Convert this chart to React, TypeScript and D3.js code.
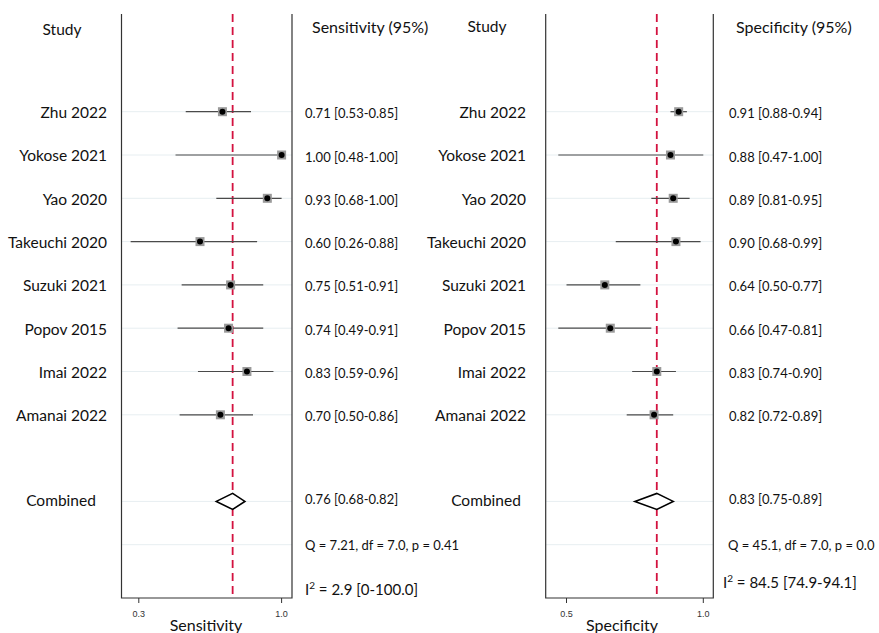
import React from 'react';
import * as d3 from 'd3';

const studies = ['Zhu 2022', 'Yokose 2021', 'Yao 2020', 'Takeuchi 2020', 'Suzuki 2021', 'Popov 2015', 'Imai 2022', 'Amanai 2022'];

const sens = [0.71, 1.0, 0.93, 0.6, 0.75, 0.74, 0.83, 0.7];
const sensLo = [0.53, 0.48, 0.68, 0.26, 0.51, 0.49, 0.59, 0.5];
const sensHi = [0.85, 1.0, 1.0, 0.88, 0.91, 0.91, 0.96, 0.86];
const sensPooled = [0.76, 0.68, 0.82];
const sensQ = 'Q = 7.21, df = 7.0, p = 0.41';
const sensI2 = ' = 2.9 [0-100.0]';
const sensTicks = [0.3, 1.0];

const spec = [0.91, 0.88, 0.89, 0.9, 0.64, 0.66, 0.83, 0.82];
const specLo = [0.88, 0.47, 0.81, 0.68, 0.5, 0.47, 0.74, 0.72];
const specHi = [0.94, 1.0, 0.95, 0.99, 0.77, 0.81, 0.9, 0.89];
const specPooled = [0.83, 0.75, 0.89];
const specQ = 'Q = 45.1, df = 7.0, p = 0.0';
const specI2 = ' = 84.5 [74.9-94.1]';
const specTicks = [0.5, 1.0];

const FONT = 'Lato, "Open Sans", sans-serif';
const fmt = d3.format('.2f');

// row index -> y (row 8 is the empty gap before Combined, row 10 is the Q line)
const y = d3.scaleLinear().domain([0, 10]).range([111.7, 544.7]);
const TOP = 14;
const BOTTOM = 598;

type PanelProps = {
  est: number[];
  lo: number[];
  hi: number[];
  pooled: number[];
  q: string;
  i2: string;
  ticks: number[];
  title: string;
  header: string;
  box: [number, number];
  x: d3.ScaleLinear<number, number>;
  labelX: number;
  combinedX: number;
  valueX: number;
  qX: number;
  i2X: number;
  i2Y: number;
  studyHeaderX: number;
  studyHeaderY: number;
  titleX: number;
};

const Panel = (p: PanelProps) => {
  const [bx0, bx1] = p.box;
  const rows = d3.range(studies.length);
  const gridRows = [...rows, 9, 10];
  const c = p.pooled;
  const yc = y(9);
  const diamond = d3.line()([
    [p.x(c[1]), yc],
    [p.x(c[0]), yc - 8],
    [p.x(c[2]), yc],
    [p.x(c[0]), yc + 8],
  ]) + 'Z';

  return (
    <g fontFamily={FONT} fill="#111">
      {/* headers */}
      <text x={p.studyHeaderX} y={p.studyHeaderY} fontSize={15.5} textAnchor="middle" dy="0.35em">Study</text>
      <text x={p.valueX + 7} y={27} fontSize={16} dy="0.35em">{p.header}</text>

      {/* grid lines */}
      {gridRows.map(i => (
        <line key={'g' + i} x1={bx0} x2={bx1} y1={y(i)} y2={y(i)} stroke="#e7eef1" strokeWidth={1} />
      ))}

      {/* frame */}
      <path d={`M${bx0},${TOP}V${BOTTOM}H${bx1}V${TOP}`} fill="none" stroke="#333" strokeWidth={1.2} />

      {/* pooled reference line */}
      <line x1={p.x(c[0])} x2={p.x(c[0])} y1={TOP} y2={BOTTOM} stroke="#d3123f" strokeWidth={1.8} strokeDasharray="8,5" />

      {/* study rows */}
      {rows.map(i => (
        <g key={i}>
          <line x1={p.x(p.lo[i])} x2={p.x(p.hi[i])} y1={y(i)} y2={y(i)} stroke="#4a4a4a" strokeWidth={1.2} />
          <rect x={p.x(p.est[i]) - 4.5} y={y(i) - 4.5} width={9} height={9} fill="#9a9a9a" />
          <circle cx={p.x(p.est[i])} cy={y(i)} r={3} fill="#000" />
          <text x={p.labelX} y={y(i) + 1} fontSize={15.5} textAnchor="end" dy="0.35em">{studies[i]}</text>
          <text x={p.valueX} y={y(i) + 2} fontSize={13} dy="0.35em">
            {`${fmt(p.est[i])} [${fmt(p.lo[i])}-${fmt(p.hi[i])}]`}
          </text>
        </g>
      ))}

      {/* combined */}
      <path d={diamond} fill="#fff" stroke="#000" strokeWidth={1.6} />
      <text x={p.combinedX} y={yc - 1} fontSize={15.5} textAnchor="middle" dy="0.35em">Combined</text>
      <text x={p.valueX} y={yc - 2} fontSize={13} dy="0.35em">{`${fmt(c[0])} [${fmt(c[1])}-${fmt(c[2])}]`}</text>
      <text x={p.qX} y={y(10) + 1} fontSize={13} dy="0.35em">{p.q}</text>
      <text x={p.i2X} y={p.i2Y} fontSize={15} dy="0.35em">
        I<tspan fontSize={10} dy="-6">2</tspan><tspan dy="6">{p.i2}</tspan>
      </text>

      {/* axis */}
      {p.ticks.map(t => (
        <g key={t}>
          <line x1={p.x(t)} x2={p.x(t)} y1={BOTTOM} y2={BOTTOM + 5} stroke="#333" />
          <text x={p.x(t)} y={614} fontSize={9} textAnchor="middle" fontFamily='"Liberation Sans", Arial, sans-serif' fill="#333" dy="0.35em">
            {d3.format('.1f')(t)}
          </text>
        </g>
      ))}
      <text x={p.titleX} y={625} fontSize={16} textAnchor="middle" dy="0.35em">{p.title}</text>
    </g>
  );
};

export default function App() {
  const xSens = d3.scaleLinear().domain([0.6, 1.0]).range([200, 281.6]);
  const xSpec = d3.scaleLinear().domain([0.47, 1.0]).range([558.3, 703.3]);

  return (
    <svg width={879} height={633} style={{ position: 'absolute', left: 0, top: 0, background: '#fff' }}>
      <Panel
        est={sens} lo={sensLo} hi={sensHi} pooled={sensPooled} q={sensQ} i2={sensI2}
        ticks={sensTicks} title="Sensitivity" header="Sensitivity (95%)"
        box={[121.5, 292]} x={xSens}
        labelX={107} combinedX={61} valueX={305} qX={305} i2X={305} i2Y={590}
        studyHeaderX={62} studyHeaderY={30} titleX={206}
      />
      <Panel
        est={spec} lo={specLo} hi={specHi} pooled={specPooled} q={specQ} i2={specI2}
        ticks={specTicks} title="Specificity" header="Specificity (95%)"
        box={[545.7, 713.3]} x={xSpec}
        labelX={526} combinedX={486} valueX={729} qX={728} i2X={723} i2Y={583}
        studyHeaderX={487} studyHeaderY={27} titleX={622}
      />
    </svg>
  );
}
